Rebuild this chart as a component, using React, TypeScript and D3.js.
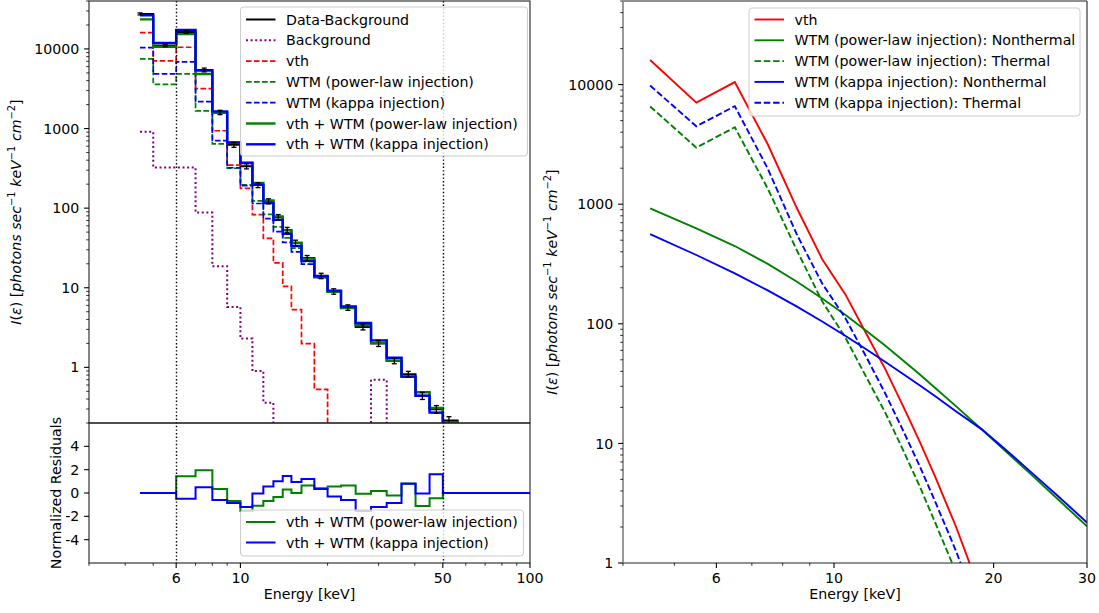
import React from 'react';
import * as d3 from 'd3';

// ---------------- data ----------------
const energy = [4.5, 5.5, 6.5, 7.5, 8.5, 9.5, 10.5, 11.5, 12.5, 13.5, 14.5, 15.5, 17, 19, 21, 23.5, 26.5, 30, 34, 38, 42.5, 47.5, 52.5, 60, 70, 85, 100];
const dataMinusBkg = [27550, 11010, 16300, 5450, 1595, 625, 336, 195, 122, 77, 53.3, 36.6, 23.6, 14.1, 9.0, 5.65, 3.22, 2.0, 1.21, 0.82, 0.44, 0.298, 0.215, 0.08, 0.04, 0.02, 0.01];
const dataErr = [800, 350, 600, 300, 100, 45, 25, 14, 9, 6, 4, 3, 1.8, 1.1, 0.7, 0.45, 0.27, 0.17, 0.1, 0.07, 0.045, 0.033, 0.025, 0.02, 0.015, 0.01, 0.008];
const background = [912, 325, 325, 88, 18.6, 5.74, 2.3, 0.9, 0.36, 0, 0, 0, 0, 0, 0, 0, 0, 0.7, 0, 0, 0, 0, 0, 0, 0, 0, 0];
const vth = [16040, 7060, 10500, 3170, 938, 347, 177, 83, 41.6, 20.5, 10.4, 5.32, 1.99, 0.53, 0.13, 0.025, 0.004, 0.0005, 0, 0, 0, 0, 0, 0, 0, 0, 0];
const wtmPlThermal = [6570, 2970, 4400, 1350, 416, 154, 77, 36, 18, 8.8, 4.4, 2.2, 0.83, 0.22, 0.055, 0.01, 0.0017, 0.0002, 0, 0, 0, 0, 0, 0, 0, 0, 0];
const wtmPlNonthermal = [922, 627, 447, 317, 226, 163, 119, 87.6, 65.4, 49.4, 37.8, 29.2, 20.4, 13.07, 8.72, 5.53, 3.38, 2.03, 1.21, 0.76, 0.487, 0.308, 0.205, 0.118, 0.065, 0.032, 0.018];
const wtmKThermal = [9820, 4480, 6600, 1985, 564, 217, 112, 53, 26, 12.8, 6.5, 3.3, 1.25, 0.33, 0.085, 0.016, 0.0027, 0.0003, 0, 0, 0, 0, 0, 0, 0, 0, 0];
const wtmKNonthermal = [562, 376, 264, 190, 139.7, 104.6, 79.4, 61.3, 47.9, 38.0, 30.6, 24.9, 18.5, 13.1, 8.98, 5.78, 3.6, 2.18, 1.32, 0.765, 0.44, 0.27, 0.19, 0.11, 0.06, 0.03, 0.016];
const residPl = [0, 0, 1.44, 1.96, 0.35, -0.69, -1.55, -1.1, -0.69, -0.34, 0.29, 0.0, 0.65, 0.4, 0.55, 0.65, -0.06, 0.17, -0.22, 0.81, -1.12, -0.46, 0, 0, 0, 0, 0];
const residK = [0, 0, -0.5, 0.5, -0.6, -0.85, -1.2, -0.05, 0.55, 1.0, 1.45, 0.95, 1.2, 0.35, -0.3, -0.6, -1.55, -1.2, -0.85, 0.8, -0.05, 1.6, 0, 0, 0, 0, 0];

const fitRange = [6, 50];
const leftXMajor = [6, 10, 50, 100];
const rightXMajor = [6, 10, 20, 30];
const logYMajor = [1, 10, 100, 1000, 10000];
const residTicks = [-4, -2, 0, 2, 4];

const topLegend = ['Data-Background', 'Background', 'vth', 'WTM (power-law injection)', 'WTM (kappa injection)', 'vth + WTM (power-law injection)', 'vth + WTM (kappa injection)'];
const residLegend = ['vth + WTM (power-law injection)', 'vth + WTM (kappa injection)'];
const rightLegend = ['vth', 'WTM (power-law injection): Nonthermal', 'WTM (power-law injection): Thermal', 'WTM (kappa injection): Nonthermal', 'WTM (kappa injection): Thermal'];

// ---------------- layout ----------------
const FONT = 'DejaVu Sans';
const FS = 14.2;
const LX0 = 89, LX1 = 530, TOP0 = 1, TOP1 = 423, RES1 = 563;
const RX0 = 623, RX1 = 1087, RY0 = 1, RY1 = 563;
const MAJ = 4.9, MIN = 2.8;

const xL = d3.scaleLog().domain([3, 100]).range([LX0, LX1]);
const yTop = d3.scaleLog().domain([0.2, 4e4]).range([TOP1, TOP0]);
const yRes = d3.scaleLinear().domain([-6, 6]).range([RES1, TOP1]);
const xR = d3.scaleLog().domain([4, 30]).range([RX0, RX1]);
const yR = d3.scaleLog().domain([1, 5e4]).range([RY1, RY0]);

const pos = (v: number) => Math.max(v, 1e-6);

function stepMid(xs: number[], ys: number[]): [number, number][] {
  const pts: [number, number][] = [[xs[0], ys[0]]];
  for (let i = 1; i < xs.length; i++) {
    const m = (xs[i - 1] + xs[i]) / 2;
    pts.push([m, ys[i - 1]], [m, ys[i]]);
  }
  pts.push([xs[xs.length - 1], ys[ys.length - 1]]);
  return pts;
}

const stepPathTop = (ys: number[]) =>
  d3.line<[number, number]>().x(d => xL(d[0])).y(d => yTop(pos(d[1])))(stepMid(energy, ys)) || '';
const stepPathRes = (ys: number[]) =>
  d3.line<[number, number]>().x(d => xL(d[0])).y(d => yRes(d[1]))(stepMid(energy, ys)) || '';
const linePathR = (ys: number[]) => {
  const pts = energy.map((e, i) => [e, ys[i]] as [number, number]).filter(d => d[0] <= 30);
  return d3.line<[number, number]>().x(d => xR(d[0])).y(d => yR(pos(d[1])))(pts) || '';
};

const sumArr = (...arrs: number[][]) => energy.map((_, i) => arrs.reduce((s, a) => s + a[i], 0));
const wtmPl = sumArr(wtmPlThermal, wtmPlNonthermal);
const wtmK = sumArr(wtmKThermal, wtmKNonthermal);
const totPl = sumArr(vth, wtmPlThermal, wtmPlNonthermal);
const totK = sumArr(vth, wtmKThermal, wtmKNonthermal);

function logTickValues(d0: number, d1: number) {
  const out: number[] = [];
  for (let e = Math.floor(Math.log10(d0)); e <= Math.ceil(Math.log10(d1)); e++) {
    for (let k = 1; k <= 9; k++) {
      const v = +(k * Math.pow(10, e)).toPrecision(6);
      if (v >= d0 * 0.9999 && v <= d1 * 1.0001) out.push(v);
    }
  }
  return out;
}

const DASH = '5.6,2.4';
const DOT = '2,2.6';
const RDASH = '6.5,2.8';

const C = { black: '#000000', purple: '#800080', red: '#ff0000', green: '#008000', blue: '#0000ff' };

type Style = { color: string; width: number; dash?: string };

function LegendBox({ x, y, w, h, items, styles, rowY }: { x: number; y: number; w: number; h: number; items: string[]; styles: Style[]; rowY: number[] }) {
  return (
    <g>
      <rect x={x} y={y} width={w} height={h} rx={3} fill="#ffffff" fillOpacity={0.8} stroke="#cccccc" strokeWidth={1} />
      {items.map((t, i) => (
        <g key={i}>
          <line x1={x + 5.5} x2={x + 35} y1={rowY[i]} y2={rowY[i]} stroke={styles[i].color} strokeWidth={styles[i].width} strokeDasharray={styles[i].dash} />
          <text x={x + 45.5} y={rowY[i]} dy="0.36em" fontSize={FS} fontFamily={FONT} fill="#000">{t}</text>
        </g>
      ))}
    </g>
  );
}

function YLabel({ x, y }: { x: number; y: number }) {
  const sup = { fontSize: 9.9, dy: -5.6 };
  return (
    <text transform={`translate(${x},${y}) rotate(-90)`} textAnchor="middle" fontSize={FS} fontFamily={FONT} fill="#000">
      <tspan fontStyle="italic">I</tspan>
      <tspan>(</tspan>
      <tspan fontStyle="italic">ε</tspan>
      <tspan>) [</tspan>
      <tspan fontStyle="italic">photons sec</tspan>
      <tspan fontSize={sup.fontSize} dy={sup.dy}>−1</tspan>
      <tspan dy={-sup.dy}> </tspan>
      <tspan fontStyle="italic">keV</tspan>
      <tspan fontSize={sup.fontSize} dy={sup.dy}>−1</tspan>
      <tspan dy={-sup.dy}> </tspan>
      <tspan fontStyle="italic">cm</tspan>
      <tspan fontSize={sup.fontSize} dy={sup.dy}>−2</tspan>
      <tspan dy={-sup.dy}>]</tspan>
    </text>
  );
}

export default function App() {
  const topTicksY = logTickValues(0.2, 4e4);
  const rTicksY = logTickValues(1, 5e4);
  const lTicksX = logTickValues(3, 100);
  const rTicksX = logTickValues(4, 30);
  const tickStroke = '#000';

  const topSeries: { ys: number[]; st: Style }[] = [
    { ys: dataMinusBkg, st: { color: C.black, width: 2 } },
    { ys: background, st: { color: C.purple, width: 2, dash: DOT } },
    { ys: vth, st: { color: C.red, width: 1.7, dash: DASH } },
    { ys: wtmPl, st: { color: C.green, width: 1.7, dash: DASH } },
    { ys: wtmK, st: { color: C.blue, width: 1.7, dash: DASH } },
    { ys: totPl, st: { color: C.green, width: 2.4 } },
    { ys: totK, st: { color: C.blue, width: 2.4 } },
  ];
  const resSeries: { ys: number[]; st: Style }[] = [
    { ys: residPl, st: { color: C.green, width: 2 } },
    { ys: residK, st: { color: C.blue, width: 2 } },
  ];
  const rightSeries: { ys: number[]; st: Style }[] = [
    { ys: vth, st: { color: C.red, width: 1.9 } },
    { ys: wtmPlNonthermal, st: { color: C.green, width: 1.9 } },
    { ys: wtmPlThermal, st: { color: C.green, width: 1.9, dash: RDASH } },
    { ys: wtmKNonthermal, st: { color: C.blue, width: 1.9 } },
    { ys: wtmKThermal, st: { color: C.blue, width: 1.9, dash: RDASH } },
  ];

  return (
    <svg width={1099} height={613} style={{ position: 'fixed', left: 0, top: 0, background: '#fff' }} fontFamily={FONT}>
      <defs>
        <clipPath id="clipTop"><rect x={LX0} y={TOP0} width={LX1 - LX0} height={TOP1 - TOP0} /></clipPath>
        <clipPath id="clipRes"><rect x={LX0} y={TOP1} width={LX1 - LX0} height={RES1 - TOP1} /></clipPath>
        <clipPath id="clipR"><rect x={RX0} y={RY0} width={RX1 - RX0} height={RY1 - RY0} /></clipPath>
      </defs>
      <rect x={0} y={0} width={1099} height={613} fill="#fff" />

      {/* ---------- top-left spectrum ---------- */}
      <g clipPath="url(#clipTop)">
        {topSeries.map((s, i) => (
          <path key={i} d={stepPathTop(s.ys)} fill="none" stroke={s.st.color} strokeWidth={s.st.width} strokeDasharray={s.st.dash} strokeLinejoin="miter" />
        ))}
        {energy.map((e, i) => {
          const v = dataMinusBkg[i], er = dataErr[i];
          const x = xL(e);
          return (
            <g key={i} stroke="#000" strokeWidth={1.3}>
              <line x1={x} x2={x} y1={yTop(pos(v - er))} y2={yTop(v + er)} />
              <line x1={x - 2.5} x2={x + 2.5} y1={yTop(pos(v - er))} y2={yTop(pos(v - er))} />
              <line x1={x - 2.5} x2={x + 2.5} y1={yTop(v + er)} y2={yTop(v + er)} />
            </g>
          );
        })}
      </g>
      {/* ---------- residuals ---------- */}
      <g clipPath="url(#clipRes)">
        {resSeries.map((s, i) => (
          <path key={i} d={stepPathRes(s.ys)} fill="none" stroke={s.st.color} strokeWidth={s.st.width} />
        ))}
      </g>
      {/* fit range markers */}
      {fitRange.map((e, i) => (
        <line key={i} x1={Math.round(xL(e)) + 0.5} x2={Math.round(xL(e)) + 0.5} y1={TOP0} y2={RES1} stroke="#000" strokeWidth={1.4} strokeDasharray="1.4,2.2" />
      ))}

      {/* left frames */}
      <rect x={LX0} y={TOP0} width={LX1 - LX0} height={TOP1 - TOP0} fill="none" stroke="#222" strokeWidth={1.1} />
      <rect x={LX0} y={TOP1} width={LX1 - LX0} height={RES1 - TOP1} fill="none" stroke="#222" strokeWidth={1.1} />

      {/* top y ticks */}
      {topTicksY.map((v, i) => {
        const major = logYMajor.includes(v);
        const y = yTop(v);
        return (
          <g key={i}>
            <line x1={LX0} x2={LX0 - (major ? MAJ : MIN)} y1={y} y2={y} stroke={tickStroke} strokeWidth={major ? 1.1 : 0.8} />
            {major && <text x={LX0 - 9.7} y={y} dy="0.36em" textAnchor="end" fontSize={FS} fill="#000">{String(v)}</text>}
          </g>
        );
      })}
      {/* residual y ticks */}
      {residTicks.map((v, i) => (
        <g key={i}>
          <line x1={LX0} x2={LX0 - MAJ} y1={yRes(v)} y2={yRes(v)} stroke={tickStroke} strokeWidth={1.1} />
          <text x={LX0 - 9.7} y={yRes(v)} dy="0.36em" textAnchor="end" fontSize={FS} fill="#000">{v < 0 ? '-' + Math.abs(v) : String(v)}</text>
        </g>
      ))}
      {/* left x ticks */}
      {lTicksX.map((v, i) => {
        const major = leftXMajor.includes(v);
        const x = xL(v);
        return (
          <g key={i}>
            <line x1={x} x2={x} y1={RES1} y2={RES1 + (major ? MAJ : MIN)} stroke={tickStroke} strokeWidth={major ? 1.1 : 0.8} />
            {major && <text x={x} y={RES1 + 9.7} dy="0.76em" textAnchor="middle" fontSize={FS} fill="#000">{String(v)}</text>}
          </g>
        );
      })}
      <text x={(LX0 + LX1) / 2} y={599} textAnchor="middle" fontSize={FS} fill="#000">Energy [keV]</text>
      <YLabel x={21} y={(TOP0 + TOP1) / 2} />
      <text transform={`translate(61,${yRes(0)}) rotate(-90)`} textAnchor="middle" fontSize={FS} fill="#000">Normalized Residuals</text>

      <LegendBox x={240.5} y={7} w={287} h={149}
        items={topLegend} styles={topSeries.map(s => s.st)}
        rowY={[19.5, 40.3, 61.1, 81.9, 102.7, 123.5, 144.3]} />
      <LegendBox x={240.5} y={510} w={283} h={46}
        items={residLegend} styles={resSeries.map(s => s.st)}
        rowY={[522, 542.5]} />

      {/* ---------- right panel ---------- */}
      <g clipPath="url(#clipR)">
        {rightSeries.map((s, i) => (
          <path key={i} d={linePathR(s.ys)} fill="none" stroke={s.st.color} strokeWidth={s.st.width} strokeDasharray={s.st.dash} />
        ))}
      </g>
      <line x1={RX0} x2={RX1} y1={RY0} y2={RY0} stroke="#222" strokeWidth={1.1} />
      <line x1={RX0} x2={RX1} y1={RY1} y2={RY1} stroke="#222" strokeWidth={1.1} />
      <line x1={RX1} x2={RX1} y1={RY0} y2={RY1} stroke="#222" strokeWidth={1.1} />
      <line x1={RX0} x2={RX0} y1={RY0} y2={RY1} stroke="#999" strokeWidth={2} />
      {rTicksY.map((v, i) => {
        const major = logYMajor.includes(v);
        const y = yR(v);
        return (
          <g key={i}>
            <line x1={RX0} x2={RX0 - (major ? MAJ : MIN)} y1={y} y2={y} stroke={tickStroke} strokeWidth={major ? 1.1 : 0.8} />
            {major && <text x={RX0 - 9.7} y={y} dy="0.36em" textAnchor="end" fontSize={FS} fill="#000">{String(v)}</text>}
          </g>
        );
      })}
      {rTicksX.map((v, i) => {
        const major = rightXMajor.includes(v);
        const x = xR(v);
        return (
          <g key={i}>
            <line x1={x} x2={x} y1={RY1} y2={RY1 + (major ? MAJ : MIN)} stroke={tickStroke} strokeWidth={major ? 1.1 : 0.8} />
            {major && <text x={x} y={RY1 + 9.7} dy="0.76em" textAnchor="middle" fontSize={FS} fill="#000">{String(v)}</text>}
          </g>
        );
      })}
      <text x={(RX0 + RX1) / 2} y={599} textAnchor="middle" fontSize={FS} fill="#000">Energy [keV]</text>
      <YLabel x={557} y={(RY0 + RY1) / 2} />
      <LegendBox x={749} y={8} w={331} h={108}
        items={rightLegend} styles={rightSeries.map(s => s.st)}
        rowY={[19.5, 40.3, 61.1, 81.9, 102.7]} />
    </svg>
  );
}
